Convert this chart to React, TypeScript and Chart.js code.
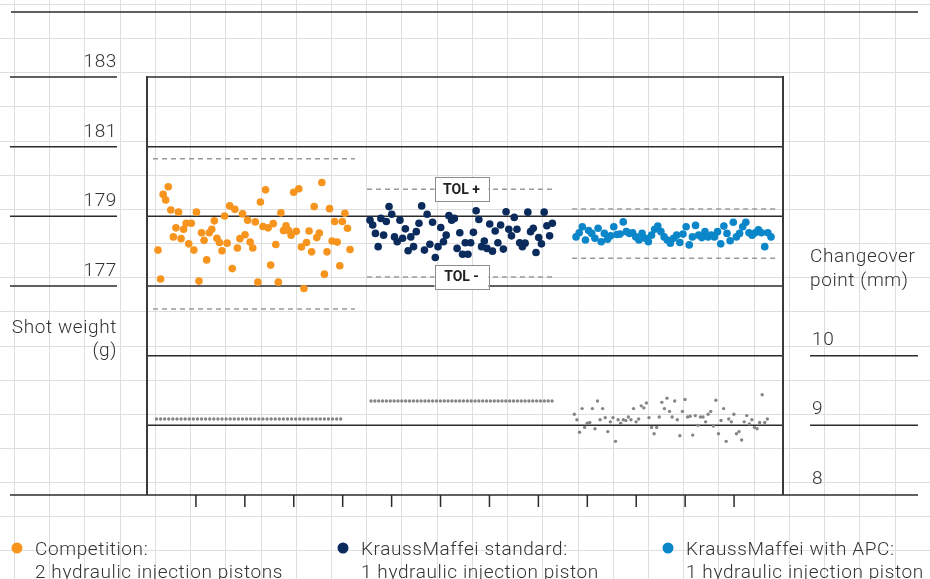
import React, { useEffect, useRef } from 'react';
import { Chart, registerables } from 'chart.js';

Chart.register(...registerables);

// ---------- data ----------
const GROUP_TITLES = ['Competition:', 'KraussMaffei standard:', 'KraussMaffei with APC:'];
const GROUP_SUBTITLES = ['2 hydraulic injection pistons', '1 hydraulic injection piston', '1 hydraulic injection piston'];
const GROUP_COLORS = ['#F7941D', '#0A2B5C', '#0A86C9'];

const WEIGHT_TICKS = [177, 179, 181, 183];
const CHANGEOVER_TICKS = [8, 9, 10];
const SHOT_TICKS = [1, 2, 3, 4, 5, 6, 7, 8, 9, 10, 11, 12];

const COMPETITION_WEIGHT = [
  178.03, 177.20, 179.63, 179.47, 179.85, 179.18, 178.41, 178.67, 179.12, 178.36,
  178.63, 178.80, 178.21, 178.80, 178.03, 179.12, 177.14, 178.53, 178.31, 177.75,
  178.53, 178.63, 178.87, 178.37, 178.25, 178.01, 179.01, 178.23, 179.30, 177.50,
  179.20, 178.09, 178.36, 179.07, 178.47, 178.89, 178.26, 178.09, 178.84, 177.11,
  179.41, 178.71, 179.76, 178.67, 177.60, 178.79, 178.19, 177.11, 179.10, 178.59,
  178.73, 178.59, 178.46, 179.69, 178.57, 179.79, 178.12, 176.93, 178.25, 178.58,
  177.98, 179.28, 178.39, 178.52, 179.97, 177.34, 177.98, 179.22, 178.29, 178.85,
  178.26, 177.58, 178.85, 179.09, 178.66, 178.05,
];

const STANDARD_WEIGHT = [
  178.89, 178.75, 178.51, 178.13, 178.94, 178.46, 178.85, 179.28, 179.06, 178.41,
  178.27, 178.89, 178.37, 178.64, 178.01, 178.41, 178.13, 178.56, 178.80, 179.30,
  178.03, 179.06, 178.20, 178.83, 177.82, 178.13, 178.68, 178.27, 178.46, 179.02,
  178.89, 178.94, 178.08, 178.53, 177.91, 178.24, 177.91, 178.24, 178.54, 179.16,
  178.91, 178.13, 178.29, 178.08, 178.78, 178.00, 178.58, 178.24, 178.75, 178.06,
  179.13, 178.63, 178.44, 178.97, 178.63, 178.24, 178.13, 178.23, 179.12, 178.56,
  178.66, 177.96, 178.39, 178.21, 179.12, 178.73, 178.44, 178.80,
];

const APC_WEIGHT = [
  178.41, 178.53, 178.70, 178.32, 178.59, 178.51, 178.37, 178.66, 178.27, 178.51,
  178.34, 178.44, 178.70, 178.48, 178.49, 178.84, 178.56, 178.51, 178.53, 178.41,
  178.32, 178.51, 178.37, 178.27, 178.46, 178.63, 178.72, 178.56, 178.41, 178.32,
  178.23, 178.37, 178.46, 178.25, 178.49, 178.70, 178.18, 178.41, 178.74, 178.46,
  178.39, 178.56, 178.41, 178.46, 178.41, 178.56, 178.21, 178.72, 178.51, 178.30,
  178.83, 178.41, 178.51, 178.70, 178.83, 178.53, 178.46, 178.53, 178.61, 178.53,
  178.13, 178.53, 178.41,
];

const COMPETITION_CHANGEOVER = [
  9.09, 9.09, 9.09, 9.09, 9.09, 9.09, 9.09, 9.09, 9.09, 9.09,
  9.09, 9.09, 9.09, 9.09, 9.09, 9.09, 9.09, 9.09, 9.09, 9.09,
  9.09, 9.09, 9.09, 9.09, 9.09, 9.09, 9.09, 9.09, 9.09, 9.09,
  9.09, 9.09, 9.09, 9.09, 9.09, 9.09, 9.09, 9.09, 9.09, 9.09,
  9.09, 9.09, 9.09, 9.09, 9.09, 9.09,
];

const STANDARD_CHANGEOVER = [
  9.35, 9.35, 9.35, 9.35, 9.35, 9.35, 9.35, 9.35, 9.35, 9.35,
  9.35, 9.35, 9.35, 9.35, 9.35, 9.35, 9.35, 9.35, 9.35, 9.35,
  9.35, 9.35, 9.35, 9.35, 9.35, 9.35, 9.35, 9.35, 9.35, 9.35,
  9.35, 9.35, 9.35, 9.35, 9.35, 9.35, 9.35, 9.35, 9.35, 9.35,
  9.35, 9.35, 9.35, 9.35, 9.35, 9.35, 9.35, 9.35,
];

const APC_CHANGEOVER = [
  9.16, 9.08, 8.90, 9.24, 8.97, 9.03, 9.04, 9.24, 8.95, 9.35,
  9.08, 9.24, 9.11, 8.91, 9.05, 9.11, 8.77, 9.08, 9.03, 9.08,
  9.07, 9.12, 9.08, 9.24, 9.05, 9.09, 9.28, 9.25, 9.32, 9.11,
  8.97, 8.88, 8.97, 9.12, 9.33, 9.24, 9.39, 9.20, 9.12, 9.35,
  9.08, 8.85, 9.20, 9.37, 9.12, 9.13, 8.86, 9.14, 9.00, 9.12,
  9.12, 9.05, 9.16, 9.20, 8.99, 9.36, 8.88, 9.07, 9.24, 8.77,
  9.09, 9.05, 9.16, 8.88, 8.91, 8.79, 9.05, 9.14, 9.02, 9.08,
  8.97, 8.95, 9.04, 9.44, 9.04, 9.09,
];

const TOL_UPPER = [180.65, 179.78, 179.21];
const TOL_LOWER = [176.34, 177.26, 177.80];
const TOL_LABELS = ['TOL +', 'TOL -'];

// ---------- layout (x-axis units: shot sequence, 0..13) ----------
const WEIGHT_SPANS = [[0.225, 4.15], [4.558, 8.285], [8.77, 12.755]];
const CHANGEOVER_SPANS = [[0.194, 3.96], [4.579, 8.279], [8.735, 12.68]];
const TOL_SPANS = [[0.123, 4.25], [4.497, 8.36], [8.69, 12.86]];

const FONT = 'Roboto, "Noto Sans", sans-serif';
const TEXT_FONT = `300 19px ${FONT}`;
const INK = '#333333';
const LINE = '#2b2b2b';

function spread(values: number[], span: number[]) {
  const [a, b] = span;
  return values.map((y, i) => ({ x: a + ((b - a) * i) / (values.length - 1), y }));
}

function setText(ctx: any) {
  ctx.font = TEXT_FONT;
  ctx.fillStyle = INK;
  if ('letterSpacing' in ctx) ctx.letterSpacing = '0.6px';
}

const decorPlugin = {
  id: 'decor',
  beforeDraw(chart: any) {
    const { ctx, width, height } = chart;
    const { left: L, right: R, top: T, bottom: B } = chart.chartArea;
    const xs = chart.scales.x;
    const yw = chart.scales.y;
    const ym = chart.scales.y2;
    ctx.save();
    ctx.fillStyle = '#ffffff';
    ctx.fillRect(0, 0, width, height);

    // paper grid
    ctx.strokeStyle = '#dedede';
    ctx.lineWidth = 1;
    for (let k = 0; k < 28; k++) {
      const x = Math.round(14 + 35.22 * k) + 0.5;
      ctx.beginPath(); ctx.moveTo(x, 0); ctx.lineTo(x, height); ctx.stroke();
    }
    for (let k = 0; k < 18; k++) {
      const y = Math.round(4 + 34.15 * k) + 0.5;
      ctx.beginPath(); ctx.moveTo(0, y); ctx.lineTo(width, y); ctx.stroke();
    }

    const hline = (y: number, x1: number, x2: number) => {
      ctx.beginPath(); ctx.moveTo(x1, y); ctx.lineTo(x2, y); ctx.stroke();
    };
    const vline = (x: number, y1: number, y2: number) => {
      ctx.beginPath(); ctx.moveTo(x, y1); ctx.lineTo(x, y2); ctx.stroke();
    };

    ctx.strokeStyle = LINE;
    ctx.lineWidth = 1.5;
    // top rule
    hline(T - 65, L - 136, R + 135);

    setText(ctx);

    // weight axis (left)
    ctx.textAlign = 'right';
    ctx.textBaseline = 'alphabetic';
    WEIGHT_TICKS.forEach((v) => {
      const y = yw.getPixelForValue(v);
      hline(y, L - 137, L - 30);
      hline(y, L, R);
      ctx.fillText(String(v), L - 30, y - 10);
    });
    ctx.fillText('Shot weight', L - 30, 333);
    ctx.fillText('(g)', L - 30, 356);

    // changeover axis (right)
    ctx.textAlign = 'left';
    CHANGEOVER_TICKS.forEach((v) => {
      const y = ym.getPixelForValue(v);
      if (v === CHANGEOVER_TICKS[0]) {
        hline(y, L - 137, R + 135);
      } else {
        hline(y, L, R);
        hline(y, R + 27, R + 135);
      }
      ctx.fillText(String(v), R + 29, y - 11);
    });
    ctx.fillText('Changeover', R + 27, 262);
    ctx.fillText('point (mm)', R + 27, 286);

    // frame
    ctx.lineWidth = 2;
    ctx.strokeStyle = '#3a3a3a';
    vline(L, T - 1, B);
    vline(R, T - 1, B);

    // shot ticks
    ctx.lineWidth = 1.5;
    ctx.strokeStyle = LINE;
    SHOT_TICKS.forEach((t) => {
      const x = xs.getPixelForValue(t);
      vline(x, B, B + 12);
    });
    ctx.restore();
  },
  afterDatasetsDraw(chart: any) {
    const { ctx } = chart;
    const xs = chart.scales.x;
    const yw = chart.scales.y;
    ctx.save();
    // tolerance labels on the standard group
    const cx = xs.getPixelForValue((TOL_SPANS[1][0] + TOL_SPANS[1][1]) / 2);
    [TOL_UPPER[1], TOL_LOWER[1]].forEach((v, i) => {
      const cy = yw.getPixelForValue(v);
      const w = 54, h = 24;
      ctx.fillStyle = '#ffffff';
      ctx.fillRect(cx - w / 2, cy - h / 2, w, h);
      ctx.strokeStyle = '#8c8c8c';
      ctx.lineWidth = 1;
      ctx.strokeRect(Math.round(cx - w / 2) + 0.5, Math.round(cy - h / 2) + 0.5, w, h);
      ctx.fillStyle = '#222222';
      ctx.font = `bold 14px ${FONT}`;
      ctx.textAlign = 'center';
      ctx.textBaseline = 'middle';
      ctx.fillText(TOL_LABELS[i], cx, cy + 1);
    });

    // legend
    const legendX = [17, 343, 668];
    setText(ctx);
    ctx.textAlign = 'left';
    ctx.textBaseline = 'alphabetic';
    GROUP_TITLES.forEach((t, i) => {
      ctx.fillStyle = GROUP_COLORS[i];
      ctx.beginPath();
      ctx.arc(legendX[i], 548, 5.5, 0, Math.PI * 2);
      ctx.fill();
      ctx.fillStyle = INK;
      ctx.fillText(t, legendX[i] + 18, 555);
      ctx.fillText(GROUP_SUBTITLES[i], legendX[i] + 18, 578);
    });
    ctx.restore();
  },
};

export default function App() {
  const ref = useRef<HTMLCanvasElement | null>(null);

  useEffect(() => {
    if (!ref.current) return;
    const weights = [COMPETITION_WEIGHT, STANDARD_WEIGHT, APC_WEIGHT];
    const changeovers = [COMPETITION_CHANGEOVER, STANDARD_CHANGEOVER, APC_CHANGEOVER];
    const datasets: any[] = [];
    weights.forEach((w, i) => {
      datasets.push({
        type: 'scatter',
        label: GROUP_TITLES[i],
        data: spread(w, WEIGHT_SPANS[i]),
        yAxisID: 'y',
        backgroundColor: GROUP_COLORS[i],
        borderWidth: 0,
        pointRadius: 3.8,
      });
    });
    changeovers.forEach((c, i) => {
      datasets.push({
        type: 'scatter',
        label: GROUP_TITLES[i] + ' changeover',
        data: spread(c, CHANGEOVER_SPANS[i]),
        yAxisID: 'y2',
        backgroundColor: '#858585',
        borderWidth: 0,
        pointRadius: 1.7,
      });
    });
    [TOL_UPPER, TOL_LOWER].forEach((tol) => {
      tol.forEach((v, i) => {
        datasets.push({
          type: 'line',
          label: 'tol',
          data: [{ x: TOL_SPANS[i][0], y: v }, { x: TOL_SPANS[i][1], y: v }],
          yAxisID: 'y',
          borderColor: '#9a9a9a',
          borderWidth: 1.5,
          borderDash: [5, 4],
          pointRadius: 0,
        });
      });
    });

    const chart = new Chart(ref.current, {
      type: 'scatter',
      data: { datasets },
      options: {
        responsive: false,
        animation: false,
        devicePixelRatio: 1,
        layout: { padding: { left: 147, right: 147, top: 77, bottom: 84 } },
        plugins: { legend: { display: false }, tooltip: { enabled: false } },
        scales: {
          x: { type: 'linear', min: 0, max: 13, display: false },
          y: { type: 'linear', min: 171, max: 183, display: false },
          y2: { type: 'linear', min: 8, max: 14, display: false },
        },
      } as any,
      plugins: [decorPlugin],
    });
    return () => chart.destroy();
  }, []);

  return (
    <div style={{ position: 'absolute', left: 0, top: 0, width: 930, height: 579 }}>
      <canvas ref={ref} width={930} height={579} style={{ display: 'block' }} />
    </div>
  );
}
